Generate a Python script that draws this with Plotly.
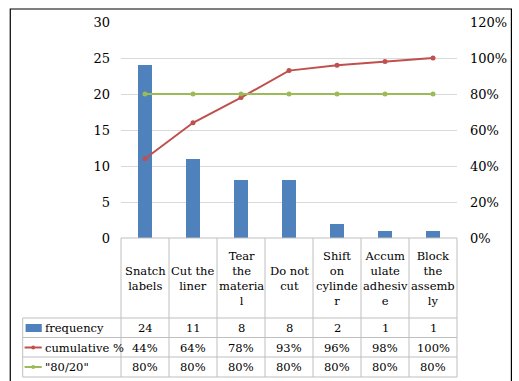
import plotly.graph_objects as go

# Pareto data for label-applicator defects
categories = ["Snatch<br>labels", "Cut the<br>liner", "Tear<br>the<br>materia<br>l",
              "Do not<br>cut", "Shift<br>on<br>cylinde<br>r", "Accum<br>ulate<br>adhesiv<br>e",
              "Block<br>the<br>assemb<br>ly"]
frequency = [24, 11, 8, 8, 2, 1, 1]
cumulative = [0.44, 0.64, 0.78, 0.93, 0.96, 0.98, 1.00]
threshold = [0.80, 0.80, 0.80, 0.80, 0.80, 0.80, 0.80]
series_names = ["frequency", "cumulative %", "\"80/20\""]

W, H = 519, 381
L, R, T, B = 121, 473, 22, 238          # plot area in pixels
FONT = "DejaVu Serif"
TABLE_SIZE = 11.5
BLUE, RED, GREEN = "#4F81BD", "#C0504D", "#9BBB59"
GRID, TABLE = "#D9D9D9", "#BFBFBF"


def px(x):
    return (x - L) / (R - L)


def py(y):
    return (B - y) / (B - T)


xs = list(range(len(categories)))

fig = go.Figure()
fig.add_trace(go.Bar(x=xs, y=frequency, width=0.31, marker=dict(color=BLUE, line=dict(width=0)),
                     name=series_names[0]))
fig.add_trace(go.Scatter(x=xs, y=cumulative, yaxis="y2", mode="lines+markers",
                         line=dict(color=RED, width=2), marker=dict(size=5, color=RED),
                         name=series_names[1]))
fig.add_trace(go.Scatter(x=xs, y=threshold, yaxis="y2", mode="lines+markers",
                         line=dict(color=GREEN, width=2), marker=dict(size=5, color=GREEN),
                         name=series_names[2]))

shapes = []
annotations = []

# outer frame
shapes.append(dict(type="rect", xref="paper", yref="paper", x0=px(5), x1=px(530), y0=py(9), y1=py(395),
                   line=dict(color="#000000", width=1.2), layer="below"))

# data table grid
col_edges = [L + i * (R - L) / len(categories) for i in range(len(categories) + 1)]
row_edges = [318, 337.5, 357, 377]
for x in col_edges:
    shapes.append(dict(type="line", xref="paper", yref="paper", x0=px(x), x1=px(x), y0=py(B), y1=py(377),
                       line=dict(color=TABLE, width=1)))
shapes.append(dict(type="line", xref="paper", yref="paper", x0=px(18), x1=px(18), y0=py(318), y1=py(377),
                   line=dict(color=TABLE, width=1)))
shapes.append(dict(type="line", xref="paper", yref="paper", x0=px(L), x1=px(R), y0=py(B), y1=py(B),
                   line=dict(color=TABLE, width=1)))
for y in row_edges:
    shapes.append(dict(type="line", xref="paper", yref="paper", x0=px(18), x1=px(R), y0=py(y), y1=py(y),
                       line=dict(color=TABLE, width=1)))

# category headers
for i, c in enumerate(categories):
    annotations.append(dict(x=i, y=py(278), xref="x", yref="paper", text=c, showarrow=False,
                            font=dict(family=FONT, size=TABLE_SIZE, color="#000"), align="center",
                            xanchor="center", yanchor="middle"))

# table rows
row_centers = [328, 347.5, 367]
row_values = [[str(v) for v in frequency],
              [f"{round(v * 100):d}%" for v in cumulative],
              [f"{round(v * 100):d}%" for v in threshold]]
for rc, vals in zip(row_centers, row_values):
    for i, v in enumerate(vals):
        annotations.append(dict(x=i, y=py(rc), xref="x", yref="paper", text=v, showarrow=False,
                                font=dict(family=FONT, size=TABLE_SIZE, color="#000"),
                                xanchor="center", yanchor="middle"))

# legend keys inside the table
for rc, name in zip(row_centers, series_names):
    annotations.append(dict(x=px(39), y=py(rc), xref="paper", yref="paper", text=name, showarrow=False,
                            font=dict(family=FONT, size=TABLE_SIZE, color="#000"),
                            xanchor="left", yanchor="middle"))
shapes.append(dict(type="rect", xref="paper", yref="paper", x0=px(21), x1=px(38), y0=py(324), y1=py(332),
                   fillcolor=BLUE, line=dict(width=0)))
for rc, col in zip(row_centers[1:], [RED, GREEN]):
    shapes.append(dict(type="line", xref="paper", yref="paper", x0=px(20), x1=px(38), y0=py(rc), y1=py(rc),
                       line=dict(color=col, width=2)))
    shapes.append(dict(type="circle", xref="paper", yref="paper", x0=px(27), x1=px(31),
                       y0=py(rc + 2), y1=py(rc - 2), fillcolor=col, line=dict(width=0)))

fig.update_layout(
    width=W, height=H,
    margin=dict(l=L, r=W - R, t=T, b=H - B),
    paper_bgcolor="white", plot_bgcolor="white",
    showlegend=False,
    bargap=0,
    font=dict(family=FONT, size=13, color="#000"),
    xaxis=dict(range=[-0.5, len(categories) - 0.5], showticklabels=False, showgrid=False,
               zeroline=False, showline=False, fixedrange=True),
    yaxis=dict(range=[0, 30], dtick=5, showgrid=True, gridcolor=GRID, gridwidth=1,
               zeroline=False, showline=False, ticks="", ticklabelstandoff=10,
               tickfont=dict(family=FONT, size=13, color="#000")),
    yaxis2=dict(range=[0, 1.2], dtick=0.2, tickformat=".0%", overlaying="y", side="right",
                showgrid=False, zeroline=False, showline=False, ticks="", ticklabelstandoff=12,
                tickfont=dict(family=FONT, size=13, color="#000")),
    shapes=shapes,
    annotations=annotations,
)

fig.write_html("out.html")
